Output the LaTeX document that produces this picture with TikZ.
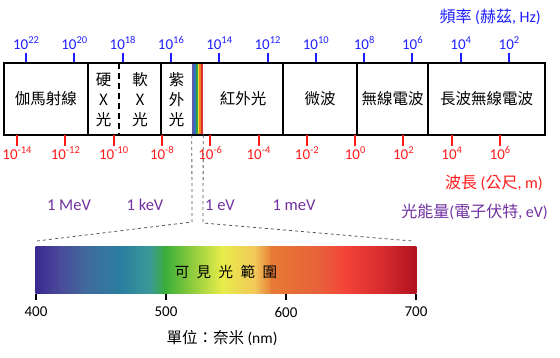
\documentclass[tikz,border=0pt]{standalone}
\usepackage{fontspec}
\setmainfont{Carlito}
\newfontfamily\cjk{Noto Sans CJK TC}
\usepackage{xcolor}
\usetikzlibrary{positioning,calc}
\definecolor{freqblue}{HTML}{1F1FFF}
\definecolor{wavered}{HTML}{FF1A1A}
\definecolor{enpurple}{HTML}{7030A0}
% thin visible strip in the band chart
\definecolor{sa}{HTML}{5B5EA6}\definecolor{sb}{HTML}{3070C0}\definecolor{sc}{HTML}{30A040}
\definecolor{sd}{HTML}{F0E040}\definecolor{se}{HTML}{F08020}\definecolor{sf}{HTML}{E03030}
% visible spectrum bar
\definecolor{g1}{HTML}{3A2A90}\definecolor{g2}{HTML}{4A4A9A}\definecolor{g3}{HTML}{41699C}
\definecolor{g4}{HTML}{2A7EA0}\definecolor{g5}{HTML}{3A9A98}\definecolor{g6}{HTML}{3AAE3A}
\definecolor{g7}{HTML}{78C43C}\definecolor{g8}{HTML}{E8EC4A}\definecolor{g9}{HTML}{F2C85A}
\definecolor{g10}{HTML}{E67A35}\definecolor{g11}{HTML}{E8603A}\definecolor{g12}{HTML}{F44438}
\definecolor{g13}{HTML}{D42A2E}\definecolor{g14}{HTML}{B0121E}
\newcommand{\tenpow}[1]{10\raisebox{0.42em}{\fontsize{10.5}{10.5}\selectfont#1}}

\begin{document}
\begin{tikzpicture}[x=1pt,y=-1pt,
  band/.style={font=\cjk\fontsize{15.5}{20}\selectfont,align=center,inner sep=0pt},
  ftick/.style={freqblue,line width=2pt},
  wtick/.style={wavered,line width=2pt},
  flab/.style={freqblue,font=\fontsize{15}{15}\selectfont,anchor=base,inner sep=0pt},
  wlab/.style={wavered,font=\fontsize{15}{15}\selectfont,anchor=base,inner sep=0pt},
  elab/.style={enpurple,font=\fontsize{16.5}{16.5}\selectfont,inner sep=0pt},
  ttl/.style={anchor=east,inner sep=0pt,font=\fontsize{16}{16}\selectfont},
  zoomline/.style={dashed,black!65,line width=0.8pt}]
\useasboundingbox (0,0) rectangle (560,358);
% frequency axis (top)
\node[freqblue,ttl] (ftitle) at (541,17) {{\cjk 頻率} ({\cjk 赫茲}, Hz)};
\foreach \i in {0,...,10}{
  \pgfmathtruncatemacro\ex{22-2*\i}
  \draw[ftick] ({26+48.3*\i},53) -- ({26+48.3*\i},63);
  \node[flab] (f\i) at ({26+48.3*\i},50) {\tenpow{\ex}};
}
% visible strip
\foreach \c [count=\k from 0] in {sa,sb,sc,sd,se,sf}
  \fill[\c] ({192+\k*11/6},64) rectangle ++(11/6+0.2,70);
\node[inner sep=0pt,minimum width=11pt,minimum height=72pt] (vis) at (197.5,99) {};
% band chart
\draw[line width=1.5pt] (4,63) rectangle (545,135);
\foreach \x in {88,161,283,357,428} \draw[line width=1.5pt] (\x,63) -- (\x,135);
\draw[line width=1.8pt,dash pattern=on 6pt off 4pt] (119,63) -- (119,135);
\node[band] (gam) at (46,99) {伽馬射線};
\node[band] (hx) at (103.5,100) {硬\\X\\光};
\node[band] (sx) at (140,100) {軟\\X\\光};
\node[band] (uv) at (176.5,100) {紫\\外\\光};
\node[band] (ir) at (243,99) {紅外光};
\node[band] (mw) at (320,99) {微波};
\node[band] (rw) at (392.5,99) {無線電波};
\node[band] (lw) at (486.5,99) {長波無線電波};
% wavelength axis (bottom)
\foreach \i in {0,...,10}{
  \pgfmathtruncatemacro\ex{-14+2*\i}
  \draw[wtick] ({17+48.3*\i},135) -- ({17+48.3*\i},146);
  \node[wlab] (w\i) at ({17+48.3*\i},160) {\tenpow{\ex}};
}
\node[wavered,ttl] (wtitle) at (543,183) {{\cjk 波長} ({\cjk 公尺}, m)};
% photon energy
\node[elab] (mev) at (69,205) {1 MeV};
\node[elab] (kev) at (145,205) {1 keV};
\node[elab] (ev) at (220,205) {1 eV};
\node[elab] (mmev) at (294,205) {1 meV};
\node[enpurple,ttl] (etitle) at (548,212) {{\cjk 光能量}({\cjk 電子伏特}, eV)};
% visible spectrum bar
\foreach \xa/\xb/\ca/\cb in {36/60/g1/g2,60/85/g2/g3,85/120/g3/g4,120/150/g4/g5,150/165/g5/g6,
  165/185/g6/g7,185/222/g7/g8,222/255/g8/g9,255/272/g9/g10,272/320/g10/g11,320/345/g11/g12,
  345/385/g12/g13,385/416/g13/g14}
  \shade[left color=\ca,right color=\cb] (\xa-0.3,247) rectangle (\xb+0.3,294);
\node[inner sep=0pt,minimum width=380pt,minimum height=47pt] (bar) at (226,270.5) {};
\node[font=\cjk\fontsize{14.5}{14.5}\selectfont] (vislab) at (226,272)
  {可\hspace{7.5pt}見\hspace{7.5pt}光\hspace{7.5pt}範\hspace{7.5pt}圍};
\foreach \x/\nm in {36/400,166/500,286/600,416/700}{
  \draw[line width=1.8pt] (\x,294) -- (\x,300);
  \node[font=\fontsize{15}{15}\selectfont] (nm\nm) at (\x,312) {\nm};
}
\node[font=\fontsize{15.5}{15.5}\selectfont] (unit) at (222,338) {{\cjk 單位：奈米} (nm)};
% zoom lines
\coordinate (zl) at (192,222); \coordinate (zr) at (203,223);
\coordinate (bl) at (37,241); \coordinate (br) at (412,241);
\draw[zoomline] (vis.south west) -- (zl) -- (bl);
\draw[zoomline] (vis.south east) -- (zr) -- (br);
\end{tikzpicture}
\end{document}
